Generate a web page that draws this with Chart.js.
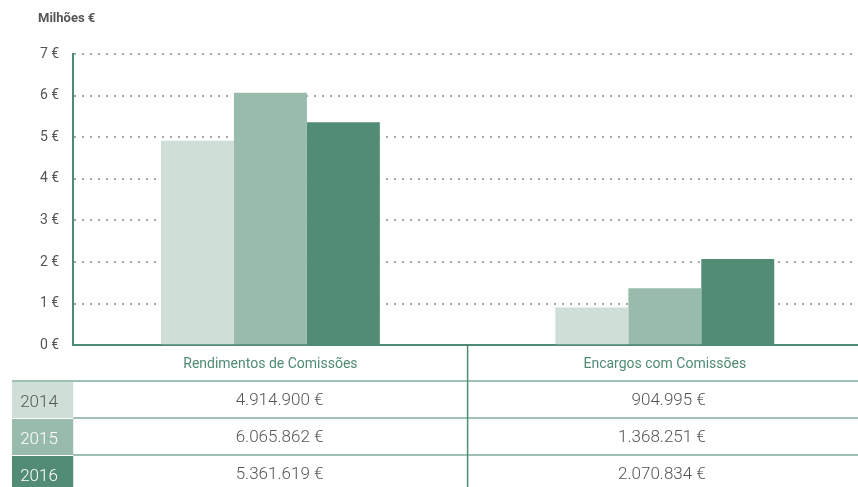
<!DOCTYPE html>
<html>
<head>
<meta charset="utf-8">
<script src="https://cdn.jsdelivr.net/npm/chart.js@4"></script>
<style>
  html, body { margin: 0; padding: 0; overflow: hidden; background: #fff; }
  #wrap { width: 862px; height: 487px; }
</style>
</head>
<body>
<div id="wrap"><canvas id="c" width="862" height="487"></canvas></div>
<script>
const categories = ['Rendimentos de Comissões', 'Encargos com Comissões'];
const years = ['2014', '2015', '2016'];
const rendimentos = [4914900, 6065862, 5361619];
const encargos = [904995, 1368251, 2070834];
const yTicks = [0, 1, 2, 3, 4, 5, 6, 7];
const unitTitle = 'Milhões €';

const colors = ['#cfdfd7', '#98bbac', '#528c75'];
const green = '#4f8a72';
const lineGreen = '#9fc1b2';
const textGray = '#555555';
const FONT = 'Roboto, "Open Sans", sans-serif';

function fmt(n) {
  return String(n).replace(/\B(?=(\d{3})+(?!\d))/g, '.') + ' €';
}

const datasets = years.map((y, i) => ({
  label: y,
  data: [rendimentos[i] / 1e6, encargos[i] / 1e6],
  backgroundColor: colors[i],
  borderWidth: 0,
  categoryPercentage: 0.555,
  barPercentage: 1.0
}));

const valueRightOffset = [53, 41];

const tablePlugin = {
  id: 'tablePlugin',
  afterDraw(chart) {
    const ctx = chart.ctx;
    const xs = chart.scales.x;
    const area = chart.chartArea;
    const bottom = area.bottom;
    ctx.save();
    // title
    ctx.fillStyle = '#555';
    ctx.font = 'bold 13px ' + FONT;
    ctx.textAlign = 'left';
    ctx.textBaseline = 'middle';
    ctx.fillText(unitTitle, 38, 19);

    const rowTop = [382, 419, 456];
    const rowH = 36;
    const cellL = 12, cellR = area.left;
    // year cells
    years.forEach((y, i) => {
      ctx.fillStyle = colors[i];
      ctx.fillRect(cellL, rowTop[i], cellR - cellL, i === 2 ? 487 - rowTop[i] : rowH);
    });
    // horizontal lines
    ctx.strokeStyle = lineGreen;
    ctx.lineWidth = 2;
    ctx.beginPath();
    ctx.moveTo(cellL, 381); ctx.lineTo(chart.width, 381);
    ctx.moveTo(cellR, 418); ctx.lineTo(chart.width, 418);
    ctx.moveTo(cellR, 455); ctx.lineTo(chart.width, 455);
    ctx.stroke();
    // vertical separator
    const sep = (xs.getPixelForValue(0) + xs.getPixelForValue(1)) / 2;
    ctx.strokeStyle = green;
    ctx.lineWidth = 1.5;
    ctx.beginPath();
    ctx.moveTo(sep, bottom); ctx.lineTo(sep, 487);
    ctx.stroke();
    // year labels
    ctx.font = '300 17px ' + FONT;
    ctx.textAlign = 'center';
    years.forEach((y, i) => {
      ctx.fillStyle = i === 0 ? '#555' : '#fff';
      ctx.fillText(y, 39, rowTop[i] + 21);
    });
    // values
    ctx.fillStyle = textGray;
    ctx.font = '300 17px ' + FONT;
    ctx.textAlign = 'right';
    [rendimentos, encargos].forEach((arr, c) => {
      const rx = xs.getPixelForValue(c) + valueRightOffset[c];
      arr.forEach((v, i) => {
        ctx.fillText(fmt(v), rx, rowTop[i] + 19);
      });
    });
    ctx.restore();
  }
};

new Chart(document.getElementById('c'), {
  type: 'bar',
  data: { labels: categories, datasets },
  plugins: [tablePlugin],
  options: {
    responsive: false,
    animation: false,
    layout: { padding: { top: 54, left: 26, right: 0, bottom: 103 } },
    plugins: { legend: { display: false }, tooltip: { enabled: false }, title: { display: false } },
    scales: {
      x: {
        grid: { display: false, drawTicks: false },
        border: { display: true, color: green, width: 2 },
        ticks: { color: green, font: { family: FONT, size: 14 }, padding: 11 }
      },
      y: {
        min: 0, max: 7,
        afterBuildTicks(axis) { axis.ticks = yTicks.map(v => ({ value: v })); },
        grid: { color: '#a8a8a8', lineWidth: 2, drawTicks: false },
        border: { display: true, color: green, width: 2, dash: [2, 6] },
        ticks: {
          color: textGray, font: { family: FONT, size: 14, weight: '400' }, padding: 14,
          callback: (v) => v + ' €'
        }
      }
    }
  }
});
</script>
</body>
</html>
